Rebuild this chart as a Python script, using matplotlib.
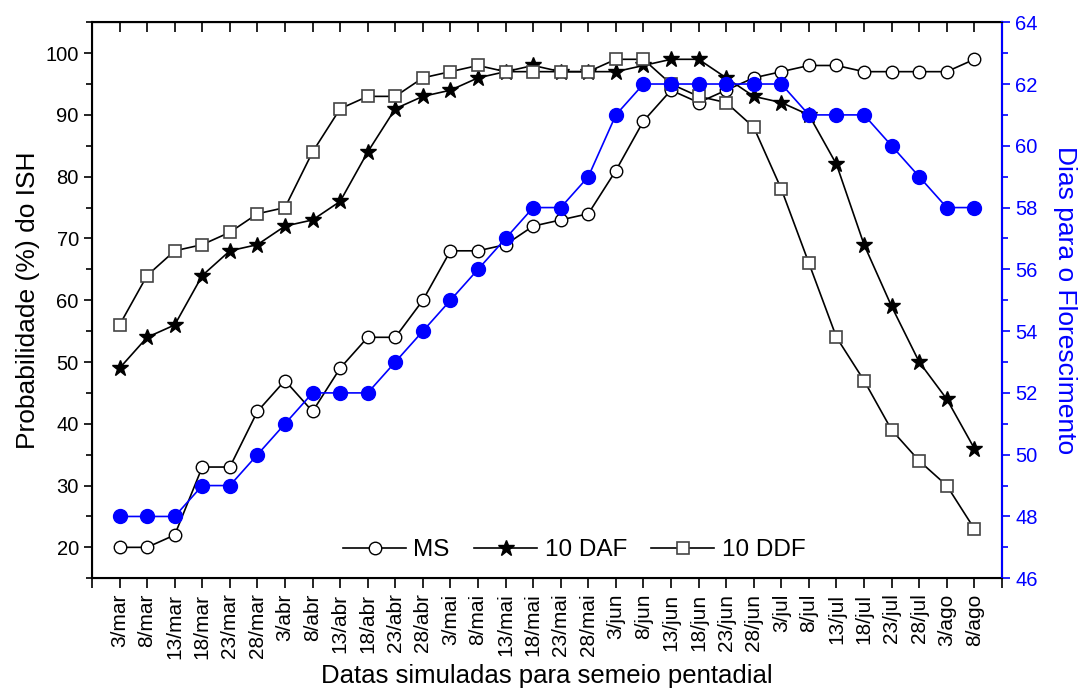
import numpy as np
import matplotlib
matplotlib.use("Agg")
import matplotlib.pyplot as plt
from matplotlib.ticker import MultipleLocator

plt.rcParams['font.family'] = ['Liberation Sans', 'DejaVu Sans']

datas = ['3/mar', '8/mar', '13/mar', '18/mar', '23/mar', '28/mar',
         '3/abr', '8/abr', '13/abr', '18/abr', '23/abr', '28/abr',
         '3/mai', '8/mai', '13/mai', '18/mai', '23/mai', '28/mai',
         '3/jun', '8/jun', '13/jun', '18/jun', '23/jun', '28/jun',
         '3/jul', '8/jul', '13/jul', '18/jul', '23/jul', '28/jul',
         '3/ago', '8/ago']

ms = [20, 20, 22, 33, 33, 42, 47, 42, 49, 54, 54, 60,
      68, 68, 69, 72, 73, 74, 81, 89, 94, 92, 94, 96,
      97, 98, 98, 97, 97, 97, 97, 99]
daf10 = [49, 54, 56, 64, 68, 69, 72, 73, 76, 84, 91, 93,
         94, 96, 97, 98, 97, 97, 97, 98, 99, 99, 96, 93,
         92, 90, 82, 69, 59, 50, 44, 36]
ddf10 = [56, 64, 68, 69, 71, 74, 75, 84, 91, 93, 93, 96,
         97, 98, 97, 97, 97, 97, 99, 99, 95, 93, 92, 88,
         78, 66, 54, 47, 39, 34, 30, 23]
dias = [48, 48, 48, 49, 49, 50, 51, 52, 52, 52, 53, 54,
        55, 56, 57, 58, 58, 59, 61, 62, 62, 62, 62, 62,
        62, 61, 61, 61, 60, 59, 58, 58]

x = np.arange(len(datas))

fig = plt.figure(figsize=(10.82, 6.95), dpi=100)
ax = fig.add_axes([0.085, 0.168, 0.841, 0.8])

ax.plot(x, ms, '-o', color='black', lw=1.2, ms=9, mfc='white', mec='black',
        mew=1.0, label='MS')
ax.plot(x, daf10, '-*', color='black', lw=1.2, ms=12, mfc='black', mec='black',
        label='10 DAF')
ax.plot(x, ddf10, '-s', color='black', lw=1.2, ms=8, mfc='white', mec='#444444',
        mew=1.2, label='10 DDF')

ax.set_xlim(-1, 32)
ax.set_ylim(15, 105)
ax.set_xticks(np.arange(-1, 33))
ax.set_xticklabels([''] + datas + [''], rotation=90, fontsize=15)
ax.yaxis.set_minor_locator(MultipleLocator(5))
ax.set_yticks(np.arange(20, 101, 10))
ax.tick_params(axis='y', which='major', direction='out', length=6, width=1.2, labelsize=14.5)
ax.tick_params(axis='y', which='minor', direction='out', length=4, width=1.2)
ax.tick_params(axis='x', which='major', direction='out', length=7, width=1.2, pad=4)
for s in ax.spines.values():
    s.set_linewidth(1.5)

top = ax.secondary_xaxis('top')
top.set_xticks(np.arange(-1, 33))
top.set_xticklabels([])
top.tick_params(direction='in', length=7, width=1.2)

ax.set_ylabel('Probabilidade (%) do ISH', fontsize=19, labelpad=4)
ax.set_xlabel('Datas simuladas para semeio pentadial', fontsize=18.5, labelpad=4)

ax2 = ax.twinx()
ax2.plot(x, dias, '-o', color='blue', lw=1.2, ms=10, mfc='blue', mec='blue')
ax2.set_ylim(46, 64)
ax2.yaxis.set_major_locator(MultipleLocator(2))
ax2.yaxis.set_minor_locator(MultipleLocator(1))
ax2.tick_params(axis='y', which='major', direction='out', length=6, width=1.2,
                colors='blue', labelsize=14.5)
ax2.tick_params(axis='y', which='minor', direction='out', length=4, width=1.2,
                colors='blue')
ax2.spines['right'].set_color('blue')
ax2.spines['right'].set_linewidth(1.5)
ax2.set_ylabel('Dias para o Florescimento', color='blue', fontsize=19,
               rotation=270, labelpad=28)

ax.legend(loc='center', bbox_to_anchor=(0.53, 0.05), ncol=3, frameon=False,
          fontsize=17.5, handlelength=2.6, columnspacing=1.0, handletextpad=0.3)

fig.savefig('out.png', dpi=100)
